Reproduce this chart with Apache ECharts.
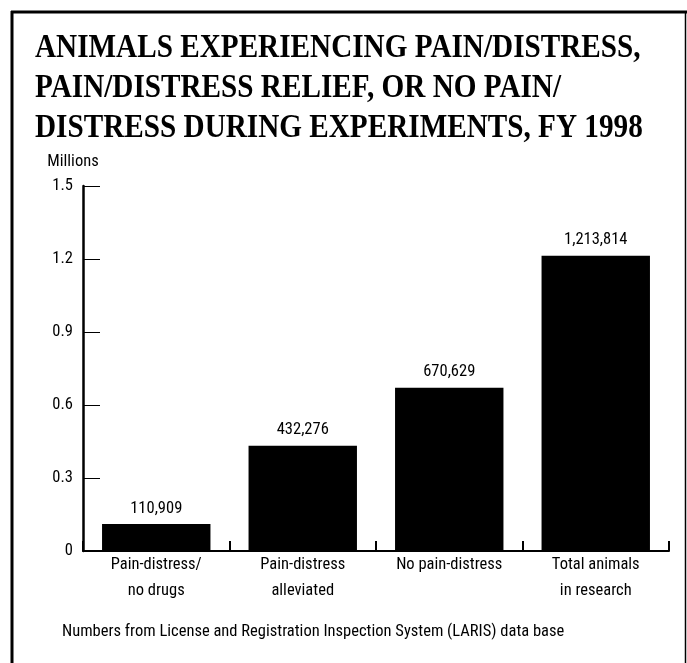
<!DOCTYPE html>
<html>
<head>
<meta charset="utf-8">
<script src="https://cdn.jsdelivr.net/npm/echarts@6/dist/echarts.min.js"></script>
<style>
  html, body { margin: 0; padding: 0; background: #fff; }
  #chart { width: 687px; height: 663px; }
</style>
</head>
<body>
<div id="chart"></div>
<script>
// Animal counts by pain/distress category, FY 1998
const categories = [
  'Pain-distress/\nno drugs',
  'Pain-distress\nalleviated',
  'No pain-distress',
  'Total animals\nin research'
];
const animalCounts = [110909, 432276, 670629, 1213814];
const yTicks = [0, 300000, 600000, 900000, 1200000, 1500000];

const titleText = 'ANIMALS EXPERIENCING PAIN/DISTRESS,\nPAIN/DISTRESS RELIEF, OR NO PAIN/\nDISTRESS DURING EXPERIMENTS, FY 1998';
const sourceText = 'Numbers from License and Registration Inspection System (LARIS) data base';

const narrow = '"Liberation Sans Narrow", "Arial Narrow", "Roboto Condensed", sans-serif';
const serif = '"Liberation Serif", "Times New Roman", "DejaVu Serif", serif';

const chart = echarts.init(document.getElementById('chart'), null, { renderer: 'canvas' });

chart.setOption({
  backgroundColor: '#ffffff',
  animation: false,
  grid: { left: 83, right: 18, top: 186, bottom: 112 },
  xAxis: {
    type: 'category',
    data: categories,
    axisLine: { lineStyle: { color: '#000', width: 2 } },
    axisTick: { show: true, inside: true, length: 10, lineStyle: { color: '#000', width: 2 } },
    axisLabel: {
      fontFamily: narrow,
      fontSize: 16.5,
      lineHeight: 26,
      color: '#000',
      margin: 1
    }
  },
  yAxis: {
    type: 'value',
    min: 0,
    max: yTicks[yTicks.length - 1],
    interval: yTicks[1] - yTicks[0],
    name: 'Millions',
    nameLocation: 'end',
    nameGap: 16,
    nameTextStyle: { fontFamily: narrow, fontSize: 16.5, color: '#000', align: 'center', padding: [0, 0, 0, -20] },
    axisLine: { show: true, lineStyle: { color: '#000', width: 2.5 } },
    axisTick: { show: true, inside: true, length: 17, lineStyle: { color: '#000', width: 1 } },
    splitLine: { show: false },
    axisLabel: {
      fontFamily: narrow,
      fontSize: 16.5,
      color: '#000',
      margin: 10,
      formatter: v => String(v / 1e6)
    }
  },
  series: [{
    type: 'bar',
    data: animalCounts,
    barWidth: '74%',
    itemStyle: { color: '#000' },
    label: {
      show: true,
      position: 'top',
      distance: 7,
      fontFamily: narrow,
      fontSize: 16.5,
      color: '#000',
      formatter: p => p.value.toLocaleString('en-US')
    }
  }],
  graphic: [
    // frame around the figure
    { type: 'line', shape: { x1: 11, y1: 12, x2: 687, y2: 12 }, style: { stroke: '#000', lineWidth: 3 } },
    { type: 'line', shape: { x1: 12, y1: 11, x2: 12, y2: 663 }, style: { stroke: '#000', lineWidth: 3 } },
    { type: 'line', shape: { x1: 685.5, y1: 11, x2: 685.5, y2: 663 }, style: { stroke: '#000', lineWidth: 1.5 } },
    // condensed bold serif headline
    {
      type: 'text',
      x: 35,
      y: 28,
      scaleX: 0.885,
      style: {
        text: titleText,
        font: 'bold 33px ' + serif,
        lineHeight: 40,
        fill: '#000'
      }
    },
    {
      type: 'text',
      left: 62,
      top: 623,
      style: {
        text: sourceText,
        font: '16.5px ' + narrow,
        fill: '#000'
      }
    }
  ]
});
</script>
</body>
</html>
